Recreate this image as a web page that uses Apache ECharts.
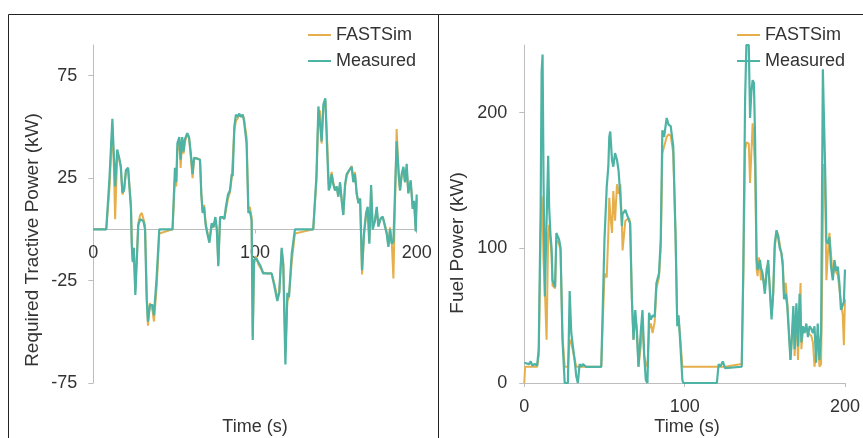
<!DOCTYPE html>
<html>
<head>
<meta charset="utf-8">
<script src="https://cdn.jsdelivr.net/npm/echarts@6/dist/echarts.min.js"></script>
<style>
html,body{margin:0;padding:0;background:#fff;}
#chart{width:863px;height:438px;}
</style>
</head>
<body>
<div id="chart"></div>
<script>
// ---------- Data ----------
var seriesNames = ['FASTSim', 'Measured'];
var xTicks = [0, 100, 200];
var leftYTicks = [-75, -25, 25, 75];
var rightYTicks = [0, 100, 200];

// Left panel: Required Tractive Power (kW) vs Time (s)
var leftTime = [0, 8, 10, 11.8, 12.6, 13.5, 14.8, 16, 17, 18, 19, 20.2, 21.5, 22.5, 23.3, 23.8, 24.4, 25, 26, 27.8,
  29, 30, 31, 32, 33, 33.8, 35, 36.7, 37.5, 39.2, 40.8, 49, 50.5, 51.3, 52, 53.2, 54, 55, 55.8, 56.7,
  58.1, 59.2, 60.2, 61.4, 62.3, 63.5, 66, 66.8, 67.6, 68.5, 69.5, 70.5, 71.8, 73.2, 74.3, 75.5, 76.4, 77.3, 78.4, 80,
  81, 82, 83.3, 84.5, 85.6, 86.2, 87.2, 88.2, 89.2, 90.3, 91.2, 92.4, 93.2, 94.8, 95.9, 96.8, 97.9, 98.6, 99.4, 100.6,
  102, 103.5, 105, 107.2, 110.3, 111.8, 113.8, 115, 116.5, 117.5, 118.8, 120, 121, 122.7, 124.7, 136, 138, 139.2, 140.2, 141.2,
  142.3, 143.5, 144.7, 145.6, 146.5, 147.4, 148.4, 149.5, 150.5, 151.5, 152.6, 153.6, 154.6, 155.7, 156.7, 158.4, 159.8, 160.8, 161.8, 162.9,
  164, 165, 166.2, 167.4, 168.7, 169.7, 170.7, 171.8, 172.8, 174.2, 175.3, 176.3, 177.7, 179, 180.2, 181.4, 182.5, 183.5, 184.5, 185.6,
  187.6, 188.9, 189.7, 190.7, 191.8, 192.8, 193.8, 194.8, 196.3, 197.5, 198.4, 199.4, 200];
var leftMeasured = [0, 0, 25, 54, 38, 21, 39, 35, 31, 18, 19, 29, 30, 30, 10, -8, -16, -9, -32, 2,
  5, 5.5, 4, 0, -34, -45, -37, -37, -42, -23, 0, 0, 30, 23, 42, 45, 34, 45, 38, 44,
  47, 45, 38, 27, 35, 35, 34, 17, 8, 11, 2, -2, -6.5, 3, 1, 6, 0, -18, 6, 6,
  5, 11, 17, 19, 27, 26, 50, 56, 55, 56.5, 55, 56, 53, 42, 8, 9, 4.5, -54, -15, -14,
  -16, -18, -21.5, -21.5, -21.5, -27, -35, -31, -9, -18, -66, -31, -33, -12, 0, 0, 26, 60, 60, 43,
  61, 64, 37, 19, 21, 27, 22, 19, 21, 16, 23, 14, 7, 22, 27, 29, 30.5, 23, 27, 17.5,
  12.7, 15, -20, -2, 8, 11, -7, 21.6, 0, 4.5, 11, 1.3, 5.4, 6.2, 6.5, -2, -8.5, 0, -7, -6,
  43, 27, 19, 27, 30.5, 23, 32, 17.5, 24, 10, 14, -1, 17];
var leftFastsim = [0, 0, 20, 50, 34, 5, 36, 34, 30, 17, 19, 28, 30, 30, 12, -6, -15, -9, -30, 3,
  7, 8, 5, 2, -30, -47, -36, -40, -45, -28, -2, 0, 25, 21, 38, 44, 30, 44, 37, 43,
  46, 45, 36, 25, 34, 35, 34, 18, 9, 12, 3, -1, -6, 2, 1, 5, 0, -17, 5, 6,
  5, 9, 15, 18, 25, 25, 48, 53, 54, 56, 55, 56, 54, 45, 10, 11, 6, -52, -17, -13,
  -17, -19, -21, -21.5, -21.5, -26, -33, -31, -10, -16, -60, -35, -33, -16, -2, 0, 24, 57, 58, 42,
  60, 63, 42, 22, 24, 28, 23, 19, 21, 16, 22, 15, 7, 21, 26, 29, 31, 24, 28, 17,
  13, 15, -22, -3, 7, 10, -6, 20, 1, 4, 10, 2, 5, 6, 6, -1, -8, 1, -5, -24,
  49, 25, 19, 26, 28, 23, 30, 18, 23, 11, 13, 0, 15];

// Right panel: Fuel Power (kW) vs Time (s)
var rightTime = [0, 0.5, 3, 4, 5, 6.5, 8, 9, 10.2, 10.8, 11.4, 12, 12.8, 13.9, 14.9, 15.5, 16.3, 17, 17.6, 19.2,
  20, 21.7, 22.6, 23.8, 25.2, 27.2, 28.3, 29.3, 30.3, 31.3, 32.4, 33.4, 34.5, 35.5, 36.5, 38.6, 48, 50, 51.4, 52.4,
  53, 53.6, 54.7, 55.5, 56.6, 57.8, 58.8, 59.9, 60.9, 61.3, 63, 65.4, 66, 67.1, 68.1, 69.2, 70.2, 71.2, 72.7, 73.7,
  74.8, 75.8, 76.8, 77.8, 78.9, 80, 81.3, 82.4, 84, 85.1, 86.1, 87.2, 88.8, 90, 91.3, 92.9, 94.3, 95.4, 96.2, 97,
  98.6, 99.2, 120.1, 121.2, 122.2, 123.8, 125.2, 135.6, 136.6, 137.7, 138.5, 140, 140.8, 141.6, 142.4, 143.2, 143.9, 144.9, 145.5, 146.3,
  147, 147.6, 148.4, 149.3, 150, 151.1, 152.1, 153.1, 154.2, 155.2, 156.2, 157.3, 158.3, 159.3, 160.4, 161.2, 162, 163, 164, 165,
  166, 167, 167.8, 168.6, 169.7, 170.7, 171.7, 172.3, 172.8, 173.8, 174.8, 175.9, 176.9, 177.9, 179, 180, 181, 182, 183, 184.1,
  185.1, 186.2, 186.8, 187.6, 188.4, 189.3, 190.3, 191.3, 192.4, 193.4, 194.5, 195.5, 196.5, 197.5, 198.6, 199.3, 200];
var rightMeasured = [15, 15, 14, 16, 13, 14, 13, 25, 130, 230, 243, 150, 64, 120, 168, 130, 110, 100, 76, 71,
  111, 106, 100, 32, 0, 0, 68, 37, 27, 18, 5, 0, 14, 12, 14, 12, 12, 106, 145, 160,
  182, 186, 165, 160, 170, 165, 157, 138, 116, 125, 128, 120, 118, 62, 32, 54, 38, 12, 39, 54,
  20, 2, 0, 52, 47, 50, 49, 74, 81, 106, 187, 182, 196, 191, 190, 175, 111, 42, 50, 35,
  2, 0, 0, 14, 12, 16, 11, 12, 86, 209, 250, 250, 196, 215, 224, 222, 184, 91, 84, 86,
  91, 85, 82, 74, 66, 81, 91, 69, 47, 66, 103, 113, 108, 100, 96, 86, 62, 66, 57, 37,
  17, 37, 57, 25, 59, 27, 66, 50, 30, 42, 37, 44, 34, 42, 40, 37, 42, 15, 44, 17,
  37, 232, 200, 160, 105, 103, 108, 86, 76, 91, 83, 86, 74, 54, 55, 60, 84];
var rightFastsim = [0, 12, 12, 12, 12, 12, 12, 20, 110, 138, 125, 90, 70, 32, 110, 117, 105, 95, 72, 70,
  106, 103, 98, 35, 12, 12, 32, 30, 24, 18, 12, 12, 12, 12, 12, 12, 12, 81, 78, 110,
  137, 125, 111, 142, 120, 147, 140, 147, 116, 98, 120, 122, 118, 62, 32, 50, 40, 12, 28, 45,
  20, 14, 12, 40, 44, 37, 45, 70, 78, 100, 170, 175, 182, 184, 183, 170, 110, 45, 48, 37,
  12, 12, 12, 12, 12, 12, 12, 14, 80, 172, 178, 177, 148, 170, 192, 175, 160, 84, 79, 93,
  85, 76, 82, 75, 70, 85, 88, 72, 50, 65, 100, 112, 110, 110, 95, 90, 65, 74, 60, 40,
  17, 35, 50, 20, 55, 17, 55, 74, 25, 40, 39, 40, 37, 36, 35, 30, 12, 12, 35, 12,
  14, 120, 162, 150, 76, 95, 111, 95, 79, 85, 82, 80, 70, 60, 50, 28, 62];

// ---------- Chart ----------
var FONT = '"Liberation Sans", Arial, sans-serif';
var TXT = '#333333';
var AX = '#bdbdbd';
var ORANGE = '#E6AF4C';
var TEAL = '#4DB3A4';

function pairs(t, v) { return t.map(function (x, i) { return [x, v[i]]; }); }

function yAxisCfg(grid, min, max, ticks, margin) {
  return {
    type: 'value', gridIndex: grid, min: min, max: max, interval: 50,
    axisLine: { show: true, lineStyle: { color: AX, width: 1 } },
    axisTick: { show: true, length: 5, lineStyle: { color: AX }, customValues: ticks },
    axisLabel: { color: TXT, fontSize: 18, fontFamily: FONT, margin: margin, customValues: ticks },
    splitLine: { show: false }
  };
}
// offset moves the left panel's time axis up to the y = 0 line
function xAxisCfg(grid, margin, offset) {
  return {
    type: 'value', gridIndex: grid, min: 0, max: 200, interval: 100, offset: offset,
    axisLine: { show: true, onZero: false, lineStyle: { color: AX, width: 1 } },
    axisTick: { show: true, length: 4, lineStyle: { color: AX }, customValues: xTicks },
    axisLabel: { color: TXT, fontSize: 18, fontFamily: FONT, margin: margin, customValues: xTicks },
    splitLine: { show: false }
  };
}
function lineSeries(name, data, xi, color, w, z) {
  return {
    name: name, type: 'line', xAxisIndex: xi, yAxisIndex: xi, data: data,
    showSymbol: false, symbol: 'none', z: z,
    lineStyle: { color: color, width: w }, itemStyle: { color: color },
    animation: false
  };
}
function legendCfg(left) {
  return {
    data: seriesNames, orient: 'vertical', left: left, top: 25, padding: 0,
    icon: 'rect', itemWidth: 23, itemHeight: 2, itemGap: 6,
    textStyle: { color: TXT, fontSize: 18, fontFamily: FONT, lineHeight: 20 },
    selectedMode: false
  };
}
function titleText(text, x, y, rot, size) {
  return {
    type: 'text', x: x, y: y, rotation: rot || 0, z: 10,
    style: { text: text, fill: TXT, font: (size || 18) + 'px ' + FONT, textAlign: 'center', textVerticalAlign: 'middle' }
  };
}

var chart = echarts.init(document.getElementById('chart'), null, { renderer: 'canvas' });
chart.setOption({
  animation: false,
  backgroundColor: '#ffffff',
  grid: [
    { left: 93.3, top: 45, width: 323.4, height: 338 },
    { left: 524.3, top: 45, width: 323, height: 338 }
  ],
  xAxis: [xAxisCfg(0, 15, -153.6), xAxisCfg(1, 15, 0)],
  yAxis: [yAxisCfg(0, -75, 90, leftYTicks, 16), yAxisCfg(1, 0, 250, rightYTicks, 17)],
  legend: [legendCfg(308), legendCfg(737)],
  series: [
    lineSeries('FASTSim', pairs(leftTime, leftFastsim), 0, ORANGE, 2, 2),
    lineSeries('Measured', pairs(leftTime, leftMeasured), 0, TEAL, 2.2, 3),
    lineSeries('FASTSim', pairs(rightTime, rightFastsim), 1, ORANGE, 2, 2),
    lineSeries('Measured', pairs(rightTime, rightMeasured), 1, TEAL, 2.2, 3)
  ],
  graphic: [
    { type: 'rect', shape: { x: 8.5, y: 14.5, width: 430, height: 440 }, style: { fill: 'none', stroke: '#222', lineWidth: 1 }, z: 0 },
    { type: 'rect', shape: { x: 438.5, y: 14.5, width: 440, height: 440 }, style: { fill: 'none', stroke: '#222', lineWidth: 1 }, z: 0 },
    titleText('Required Tractive Power (kW)', 33, 240, Math.PI / 2, 19),
    titleText('Time (s)', 255, 427, 0, 18),
    titleText('Fuel Power (kW)', 458, 243, Math.PI / 2, 19),
    titleText('Time (s)', 687, 427, 0, 18)
  ]
});
</script>
</body>
</html>
